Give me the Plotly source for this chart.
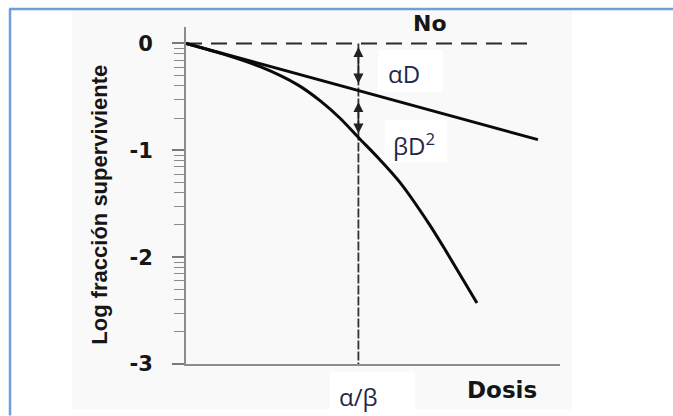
import numpy as np
import plotly.graph_objects as go

# Linear-quadratic survival model, dose in arbitrary units,
# survival expressed as log10 of the surviving fraction.
dose_lq = [0.0, 1.0, 2.0, 3.0, 3.6, 4.12, 4.61, 5.19, 5.72, 6.52, 6.98, 7.78]
logsf_lq = [0.0, -0.10, -0.22, -0.39, -0.54, -0.70, -0.88, -1.09, -1.30, -1.70, -1.96, -2.43]

# Pure alpha (linear) component
dose_alpha = [0.0, 9.41]
logsf_alpha = [0.0, -0.90]

# Reference level N0 (no killing)
dose_ref = [0.0, 9.25]
logsf_ref = [0.0, 0.0]

alpha_beta = 4.61

y_ticks = [0, -1, -2, -3]
y_ticktext = ["0", "-1", "-2", "-3"]

# Minor ticks follow a log10 layout inside each decade
y_minor = [d + np.log10(k / 10) for d in (0, -1, -2) for k in range(2, 10)]

W, H = 673, 416
ML, MR, MT, MB = 186, 113, 27, 51.5
PW, PH = W - ML - MR, H - MT - MB


def xp(px):
    return (px - ML) / PW


def yp(py):
    return (H - MB - py) / PH


BG = "#f9f9f9"
INK = "#161616"
NAVY = "#1f2747"

fig = go.Figure()

fig.add_trace(go.Scatter(
    x=dose_ref, y=logsf_ref, mode="lines",
    line=dict(color="#2a2a2a", width=2, dash="16px,9px"),
    hoverinfo="skip", showlegend=False))

fig.add_trace(go.Scatter(
    x=[alpha_beta, alpha_beta], y=[0, y_ticks[-1]], mode="lines",
    line=dict(color="#333333", width=1.8, dash="9px,2px"),
    hoverinfo="skip", showlegend=False))

fig.add_trace(go.Scatter(
    x=dose_alpha, y=logsf_alpha, mode="lines",
    line=dict(color="#0a0a0a", width=3),
    name="αD", showlegend=False))

fig.add_trace(go.Scatter(
    x=dose_lq, y=logsf_lq, mode="lines", line_shape="spline",
    line=dict(color="#0a0a0a", width=3, smoothing=0.8),
    name="αD + βD²", showlegend=False))

alpha_at_ab = float(np.interp(alpha_beta, dose_alpha, logsf_alpha))
lq_at_ab = float(np.interp(alpha_beta, dose_lq, logsf_lq))

arrow_common = dict(
    xref="x", yref="y", axref="x", ayref="y", text="", showarrow=True,
    arrowhead=2, startarrowhead=2, arrowside="end+start",
    arrowsize=1.25, startarrowsize=1.25, arrowwidth=1.6, arrowcolor="#222222")

annotations = [
    dict(x=alpha_beta, y=alpha_at_ab, ax=alpha_beta, ay=0,
         standoff=7, startstandoff=2, **arrow_common),
    dict(x=alpha_beta, y=lq_at_ab, ax=alpha_beta, ay=alpha_at_ab,
         standoff=4, startstandoff=10, **arrow_common),
    dict(text="No", x=xp(430), y=yp(23), xref="paper", yref="paper",
         showarrow=False, xanchor="center", yanchor="middle",
         font=dict(family="DejaVu Sans", size=22, color=INK, weight="bold")),
    dict(text="Dosis", x=xp(502), y=yp(391), xref="paper", yref="paper",
         showarrow=False, xanchor="center", yanchor="middle",
         font=dict(family="DejaVu Sans", size=23, color=INK, weight="bold")),
    dict(text="Log fracción superviviente", x=xp(100), y=yp(205),
         xref="paper", yref="paper", textangle=-90,
         showarrow=False, xanchor="center", yanchor="middle",
         font=dict(family="Liberation Sans", size=22, color=INK, weight="bold")),
    dict(text="αD", x=xp(404), y=yp(74), xref="paper", yref="paper",
         showarrow=False, xanchor="center", yanchor="middle",
         font=dict(family="Open Sans", size=24, color=NAVY)),
    dict(text="βD<sup>2</sup>", x=xp(414), y=yp(145), xref="paper", yref="paper",
         showarrow=False, xanchor="center", yanchor="middle",
         font=dict(family="Open Sans", size=24, color=NAVY)),
    dict(text="α/β", x=alpha_beta, y=yp(397), xref="x", yref="paper",
         showarrow=False, xanchor="center", yanchor="middle",
         font=dict(family="Open Sans", size=24, color=NAVY)),
]


def rect(x0, y0, x1, y1, color):
    return dict(type="rect", xref="paper", yref="paper", layer="below",
                x0=xp(x0), x1=xp(x1), y0=yp(y1), y1=yp(y0),
                fillcolor=color, line=dict(width=0))


shapes = [
    rect(72, 10, 572, 410, BG),
    rect(378, 50, 443, 92, "white"),
    rect(385, 120, 447, 163, "white"),
    rect(330, 372, 415, 410, "white"),
    dict(type="line", xref="paper", yref="paper", layer="above",
         x0=xp(9), x1=xp(673), y0=yp(9), y1=yp(9),
         line=dict(color="#6f9fd8", width=2.5)),
    dict(type="line", xref="paper", yref="paper", layer="above",
         x0=xp(10), x1=xp(10), y0=yp(9), y1=yp(416),
         line=dict(color="#6f9fd8", width=2.5)),
]

fig.update_layout(
    width=W, height=H, autosize=False,
    margin=dict(l=ML, r=MR, t=MT, b=MB, pad=0),
    paper_bgcolor="white", plot_bgcolor="rgba(0,0,0,0)",
    showlegend=False,
    annotations=annotations, shapes=shapes,
    xaxis=dict(range=[0, 10], showline=True, linecolor="#8c8c8c", linewidth=2,
               showgrid=False, zeroline=False, showticklabels=False, ticks="",
               automargin=False, fixedrange=True),
    yaxis=dict(range=[-3, 0.154], showline=True, linecolor="#8c8c8c", linewidth=2,
               showgrid=False, zeroline=False,
               tickmode="array", tickvals=y_ticks, ticktext=y_ticktext,
               ticks="outside", ticklen=12, tickwidth=1.5, tickcolor="#7a7a7a",
               ticklabelstandoff=15,
               tickfont=dict(family="DejaVu Sans", size=21, color=INK, weight="bold"),
               minor=dict(tickmode="array", tickvals=y_minor, ticks="outside",
                          ticklen=10, tickwidth=1, tickcolor="#8a8a8a"),
               automargin=False, fixedrange=True),
)

fig.write_html("out.html")
